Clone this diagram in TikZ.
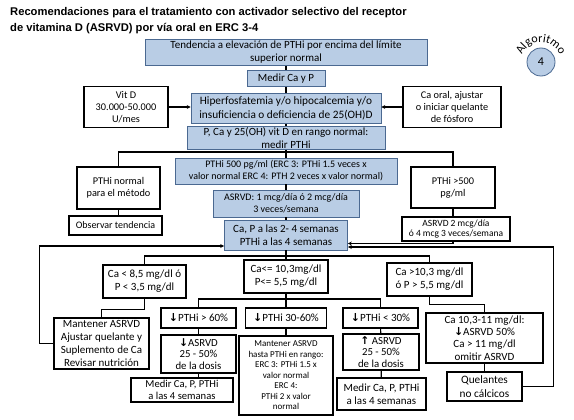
\documentclass[tikz,border=0pt]{standalone}
\usepackage{fontspec}
\setmainfont{Carlito}
\newfontfamily\titlefont{Liberation Sans}
\newfontfamily\symfont{DejaVu Sans}
\usetikzlibrary{arrows.meta,positioning,decorations.text}
\definecolor{boxblue}{RGB}{185,205,229}
\definecolor{boxedge}{RGB}{75,105,145}
\newcommand{\arrdn}{{\symfont\bfseries ↓}}
\newcommand{\arrup}{{\symfont\bfseries ↑}}

\begin{document}
\begin{tikzpicture}[
  x=1pt, y=-1pt,
  font=\fontsize{10}{12}\selectfont,
  wh/.style 2 args={minimum width=#1pt, minimum height=#2pt},
  blk/.style={draw, line width=1.2pt, fill=white, align=center, inner sep=0.5pt},
  blu/.style={draw=boxedge, line width=0.6pt, fill=boxblue, align=center, inner sep=0.5pt},
  big/.style={font=\fontsize{11}{13}\selectfont},
  bigger/.style={font=\fontsize{11.3}{13.3}\selectfont},
  link/.style={line width=1.1pt},
  arr/.style={link, -{Stealth[length=4pt, width=4pt]}}
]
\fill[white] (0,0) rectangle (574,420);
\useasboundingbox (0,0) rectangle (574,420);

% title
\node[anchor=base west, inner sep=0, font=\titlefont\bfseries\fontsize{11.2}{14}\selectfont] (title1) at (10,16)
  {Recomendaciones para el tratamiento con activador selectivo del receptor};
\node[anchor=base west, inner sep=0, font=\titlefont\bfseries\fontsize{11.2}{14}\selectfont] (title2) at (10,32)
  {de vitamina D (ASRVD) por vía oral en ERC 3-4};

% badge
\begin{scope}[shift={(541,62)}, y=1pt]
\node[circle, draw=boxedge, line width=0.8pt, fill=boxblue, minimum size=28pt, inner sep=0,
  font=\fontsize{12}{14}\selectfont] (badge) at (0,0) {4};
\path[decorate, decoration={text along path, text align=center,
  text={|\fontsize{12}{14}\selectfont|Algoritmo}}] (160:20) arc[start angle=160, end angle=20, radius=20];
\end{scope}

% upper part
\node[blu, big, wh={282}{26}] (tend) at (286,52.5) {Tendencia a elevación de PTHi por encima del límite\\superior normal};
\node[blu, big, wh={78}{16}] (medir) at (286,78.5) {Medir Ca y P};
\node[blu, bigger, wh={190}{30}] (hiper) at (286,108.5) {Hiperfosfatemia y/o hipocalcemia y/o\\insuficiencia o deficiencia de 25(OH)D};
\node[blk, wh={84}{41}, font=\fontsize{10.3}{12.3}\selectfont] (vitd) at (126,107) {Vit D\\30.000-50.000\\U/mes};
\node[blk, wh={98}{41}, font=\fontsize{10.3}{12.3}\selectfont] (caoral) at (452,107) {Ca oral, ajustar\\o iniciar quelante\\de fósforo};
\node[blu, big, wh={198}{23}] (pca) at (286,138) {P, Ca y 25(OH) vit D en rango normal:\\medir PTHi};
\node[blu, wh={222}{26}] (pthi500) at (286,171) {PTHi 500 pg/ml (ERC 3: PTHi 1.5 veces x\\valor normal ERC 4: PTH 2 veces x valor normal)};
\node[blk, wh={83}{42}, font=\fontsize{10.3}{12.3}\selectfont] (pthinorm) at (118.5,188) {PTHi normal\\para el método};
\node[blk, wh={84}{41}, font=\fontsize{10.3}{12.3}\selectfont] (pthi5h) at (453,187.5) {PTHi >500\\pg/ml};
\node[blu, wh={146}{27}] (asrvd1) at (286,203.5) {ASRVD: 1 mcg/día ó 2 mcg/día\\3 veces/semana};
\node[blk, wh={93}{19}] (observar) at (115.5,225.5) {Observar tendencia};
\node[blk, wh={108}{24}, font=\fontsize{9.5}{10.8}\selectfont] (asrvd2) at (456,229) {ASRVD 2 mcg/día\\ó 4 mcg 3 veces/semana};
\node[blu, big, wh={123}{30}] (cap) at (286,235) {Ca, P a las 2- 4 semanas\\PTHi a las 4 semanas};

% lower part
\node[blk, big, wh={83}{33}] (calow) at (144.5,281.5) {Ca < 8,5 mg/dl ó\\P < 3,5 mg/dl};
\node[blk, big, wh={84}{33}] (camid) at (286,276.5) {Ca<= 10,3mg/dl\\P<= 5,5 mg/dl};
\node[blk, big, wh={85}{33}] (cahigh) at (429.5,279.5) {Ca >10,3 mg/dl\\ó P > 5,5 mg/dl};
\node[blk, big, wh={95}{51}] (mant1) at (101.5,343.5) {Mantener ASRVD\\Ajustar quelante y\\Suplemento de Ca\\Revisar nutrición};
\node[blk, big, wh={75}{20}] (p60) at (198.5,318) {\arrdn PTHi > 60\%};
\node[blk, big, wh={81}{20}] (p3060) at (286,318) {\arrdn PTHi 30-60\%};
\node[blk, big, wh={75}{20}] (p30) at (380.5,318) {\arrdn PTHi < 30\%};
\node[blk, wh={75}{38}, font=\fontsize{10.8}{11.8}\selectfont] (asrvdL) at (198.5,354) {\arrdn ASRVD\\25 - 50\%\\de la dosis};
\node[blk, wh={76}{36}, font=\fontsize{10.8}{11.8}\selectfont] (asrvdR) at (381,352) {\arrup\ ASRVD\\25 - 50\%\\de la dosis};
\node[blk, wh={102}{24}, font=\fontsize{10.6}{11.3}\selectfont] (medirL) at (182,390) {Medir Ca, P, PTHi\\a las 4 semanas};
\node[blk, big, wh={89}{32}] (medirR) at (381.5,394) {Medir Ca, P, PTHi\\a las 4 semanas};
\node[blk, wh={94}{79}, font=\fontsize{9}{10.5}\selectfont] (manth) at (286,375.5)
  {Mantener ASRVD\\hasta PTHi en rango:\\ERC 3: PTHi 1.5 x\\valor normal\\ERC 4:\\PTHi 2 x valor\\normal};
\node[blk, wh={117}{50}, font=\fontsize{11}{12.2}\selectfont] (ca1011) at (484.5,338) {Ca 10,3-11 mg/dl:\\\arrdn ASRVD 50\%\\Ca > 11 mg/dl\\omitir ASRVD};
\node[blk, bigger, wh={75}{29}] (quel) at (484.5,386.5) {Quelantes\\no cálcicos};

% connectors
\draw[link] (tend) -- (medir);
\draw[link] (medir) -- (hiper);
\draw[arr] (vitd.east) -- (vitd.east -| hiper.west);
\draw[arr] (caoral.west) -- (caoral.west -| hiper.east);
\draw[link] (hiper) -- (pca);
\coordinate (j1) at (286,152);
\draw[link] (pca) -- (pthi500);
\draw[link] (pthinorm.north) |- (j1) -| (pthi5h.north);
\draw[link] (pthinorm.south) -- (pthinorm.south |- observar.north);
\draw[link] (pthi500) -- (asrvd1);
\draw[link] (asrvd1) -- (cap);
\draw[link] (pthi5h.south) -- (pthi5h.south |- asrvd2.north);
\draw[arr] (asrvd2.south -| pthi5h.south) |- ([yshift=-8.5pt]cap.east);
\draw[arr] (mant1.west) -- ++(-14,0) |- ([yshift=-11pt]cap.west);
\draw[arr] (quel.east) -- ++(31,0) |- ([yshift=-12pt]cap.east);
\coordinate (j2) at (286,256);
\draw[link] (cap) -- (camid);
\draw[link] (calow.north) |- (j2) -| (cahigh.north);
\draw[link] (calow.south) -- ++(0,11) -| (mant1.north);
\coordinate (j3) at (286,299);
\draw[link] (camid) -- (p3060);
\draw[link] (p60.north) |- (j3) -| (p30.north);
\draw[link] (p60) -- (asrvdL);
\draw[link] (asrvdL.south) -- (asrvdL.south |- medirL.north);
\draw[link] (p3060) -- (manth);
\draw[link] (p30) -- (asrvdR);
\draw[link] (asrvdR) -- (medirR);
\draw[link] (cahigh.south) -- ++(0,8) -| (ca1011.north);
\draw[link] (ca1011) -- (quel);
\end{tikzpicture}
\end{document}
